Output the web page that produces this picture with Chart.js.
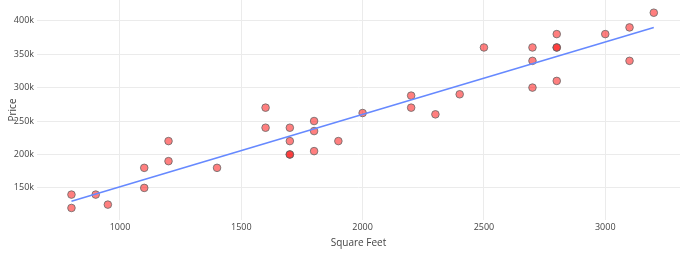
<!DOCTYPE html>
<html>
<head>
<meta charset="utf-8">
<script src="https://cdn.jsdelivr.net/npm/chart.js@4"></script>
<style>
  html, body { margin: 0; padding: 0; background: #fff; }
  #wrap { width: 680px; height: 254px; }
</style>
</head>
<body>
<div id="wrap"><canvas id="grafica"></canvas></div>
<script>
// datos
const pies = [800, 800, 900, 950, 1100, 1100, 1200, 1200, 1400, 1600, 1600, 1700, 1700, 1700, 1700,
  1800, 1800, 1800, 1900, 2000, 2200, 2200, 2300, 2400, 2500, 2700, 2700, 2700, 2800, 2800, 2800, 2800,
  3000, 3100, 3100, 3200];
const precios = [140000, 120000, 140000, 125000, 180000, 150000, 220000, 190000, 180000, 270000, 240000,
  240000, 220000, 200000, 200000, 250000, 235000, 205000, 220000, 262000, 288000, 270000, 260000, 290000,
  360000, 360000, 340000, 300000, 380000, 360000, 360000, 310000, 380000, 390000, 340000, 412000];
const tendenciaX = [800, 3200];
const tendenciaY = [130000, 390000];
const ticksX = [1000, 1500, 2000, 2500, 3000];
const ticksY = [150000, 200000, 250000, 300000, 350000, 400000];

const fuente = { family: "'Open Sans', 'DejaVu Sans', sans-serif", size: 9 };

new Chart(document.getElementById("grafica"), {
  type: "scatter",
  data: {
    datasets: [
      {
        type: "line",
        data: tendenciaX.map((x, i) => ({ x: x, y: tendenciaY[i] })),
        borderColor: "#6689ff",
        borderWidth: 1.6,
        pointRadius: 0,
        fill: false
      },
      {
        data: pies.map((x, i) => ({ x: x, y: precios[i] })),
        backgroundColor: "rgba(255, 0, 0, 0.5)",
        borderColor: "#666",
        borderWidth: 0.8,
        pointRadius: 3.8,
        pointHoverRadius: 3.8
      }
    ]
  },
  options: {
    responsive: true,
    maintainAspectRatio: false,
    animation: false,
    layout: { padding: 0, autoPadding: false },
    plugins: {
      legend: { display: false },
      tooltip: { enabled: false }
    },
    scales: {
      x: {
        type: "linear",
        min: 658,
        max: 3308,
        afterBuildTicks: s => { s.ticks = ticksX.map(v => ({ value: v })); },
        afterFit: s => {
          s.height = 34;
          s.paddingLeft = 0;
          s.paddingRight = 0;
        },
        border: { display: false },
        grid: { color: "#ebebeb", drawTicks: false },
        ticks: {
          color: "#444",
          font: fuente,
          padding: 2,
          maxRotation: 0,
          callback: v => String(v)
        },
        title: {
          display: true,
          text: "Square Feet",
          color: "#444",
          font: { family: fuente.family, size: 10 },
          padding: { top: 0, bottom: 5 }
        }
      },
      y: {
        type: "linear",
        min: 102000,
        max: 431000,
        afterBuildTicks: s => { s.ticks = ticksY.map(v => ({ value: v })); },
        afterFit: s => {
          s.width = 37;
          s.paddingTop = 0;
          s.paddingBottom = 0;
        },
        border: { display: false },
        grid: { color: "#ebebeb", drawTicks: false },
        ticks: {
          color: "#444",
          font: fuente,
          padding: 3,
          callback: v => (v / 1000) + "k"
        },
        title: {
          display: true,
          text: "Price",
          color: "#444",
          font: { family: fuente.family, size: 10 },
          padding: { top: 7, bottom: 0 }
        }
      }
    }
  }
});
</script>
</body>
</html>
